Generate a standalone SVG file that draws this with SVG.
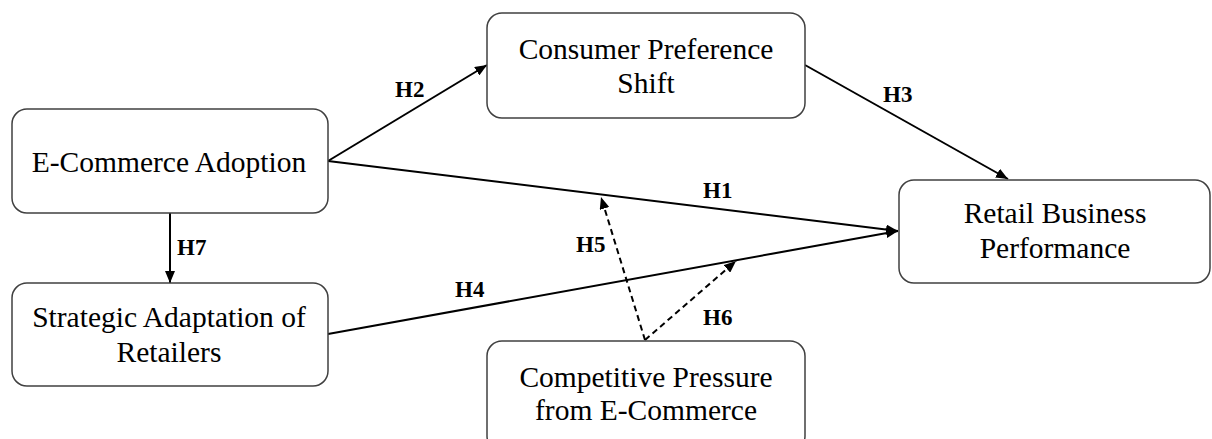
<svg xmlns="http://www.w3.org/2000/svg" width="1212" height="439" viewBox="0 0 1212 439">
<style>
.box{fill:#fff;stroke:#404040;stroke-width:1.5}
.t{font-family:'Liberation Serif','Times New Roman','DejaVu Serif',serif;font-size:29.5px;fill:#000;text-anchor:middle}
.h{font-family:'Liberation Serif','Times New Roman','DejaVu Serif',serif;font-size:23px;font-weight:bold;fill:#000}
.c{stroke:#000;stroke-width:2;fill:none}
.d{stroke:#000;stroke-width:2;fill:none;stroke-dasharray:6 4}
</style>
<defs>
<marker id="arr" markerUnits="userSpaceOnUse" markerWidth="12" markerHeight="10" refX="12" refY="5" orient="auto">
<path d="M0,0 L12,5 L0,10 z" fill="#000"/>
</marker>
</defs>
<rect width="1212" height="439" fill="#fff"/>
<g id="connectors">
<line class="c" x1="328" y1="161" x2="487" y2="65" marker-end="url(#arr)"/>
<line class="c" x1="328" y1="161" x2="898" y2="231" marker-end="url(#arr)"/>
<line class="c" x1="805" y1="65" x2="1008" y2="179" marker-end="url(#arr)"/>
<line class="c" x1="328" y1="334" x2="898" y2="231" marker-end="url(#arr)"/>
<line class="c" x1="170" y1="213" x2="170" y2="283" marker-end="url(#arr)"/>
<line class="d" x1="645" y1="340" x2="601" y2="197" marker-end="url(#arr)"/>
<line class="d" x1="645" y1="340" x2="736" y2="261" marker-end="url(#arr)"/>
<text class="h" x="395" y="97" font-family="Liberation Serif, serif">H2</text>
<text class="h" x="703" y="198" font-family="Liberation Serif, serif">H1</text>
<text class="h" x="883" y="102" font-family="Liberation Serif, serif">H3</text>
<text class="h" x="455" y="297" font-family="Liberation Serif, serif">H4</text>
<text class="h" x="576" y="252" font-family="Liberation Serif, serif">H5</text>
<text class="h" x="703" y="325" font-family="Liberation Serif, serif">H6</text>
<text class="h" x="177" y="255" font-family="Liberation Serif, serif">H7</text>
</g>
<g id="ecommerce-adoption">
<rect class="box" x="12" y="109" width="316" height="104" rx="15"/>
<text class="t" x="169" y="172">E-Commerce Adoption</text>
</g>
<g id="consumer-preference-shift">
<rect class="box" x="487" y="13" width="318" height="105" rx="15"/>
<text class="t" x="646" y="59">Consumer Preference</text>
<text class="t" x="646" y="93">Shift</text>
</g>
<g id="retail-business-performance">
<rect class="box" x="899" y="180" width="311" height="103" rx="15"/>
<text class="t" x="1055" y="223">Retail Business</text>
<text class="t" x="1055" y="258">Performance</text>
</g>
<g id="strategic-adaptation">
<rect class="box" x="12" y="283" width="316" height="103" rx="15"/>
<text class="t" x="169" y="327">Strategic Adaptation of</text>
<text class="t" x="169" y="362">Retailers</text>
</g>
<g id="competitive-pressure">
<rect class="box" x="487" y="341" width="318" height="110" rx="15"/>
<text class="t" x="646" y="387">Competitive Pressure</text>
<text class="t" x="646" y="420">from E-Commerce</text>
</g>
</svg>
